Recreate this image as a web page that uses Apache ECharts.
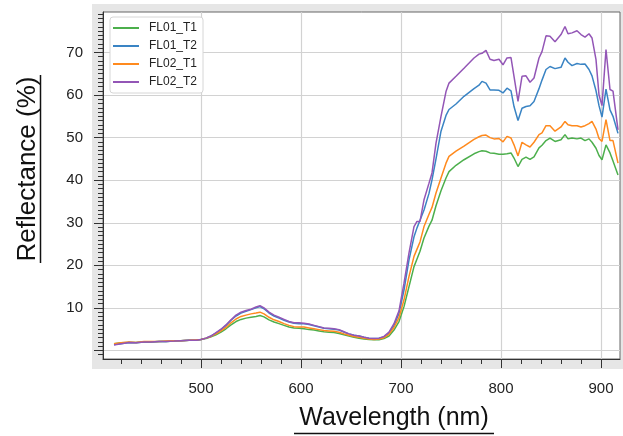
<!DOCTYPE html>
<html>
<head>
<meta charset="utf-8">
<script src="https://cdn.jsdelivr.net/npm/echarts@6/dist/echarts.min.js"></script>
<style>
  html, body { margin: 0; padding: 0; background: #fff; }
  #main { width: 623px; height: 436px; }
</style>
</head>
<body>
<div id="main"></div>
<script>
// wavelength (nm)
const wavelengths = [413, 420, 428, 435, 443, 450, 458, 465, 473, 480, 488, 495, 500, 505, 510, 515, 520, 525, 530, 535,
  540, 545, 550, 555, 559, 563, 568, 573, 578, 583, 588, 593, 598, 603, 608, 613, 618, 623, 628, 633,
  638, 643, 648, 653, 658, 663, 668, 673, 678, 683, 688, 693, 698, 703, 708, 713, 716, 719, 723, 728,
  731, 735, 740, 745, 748, 755, 763, 773, 778, 781, 785, 789, 793, 798, 802, 806, 810, 813, 817, 821,
  825, 829, 833, 838, 841, 845, 849, 854, 860, 864, 867, 871, 876, 880, 884, 888, 891, 895, 898, 901,
  905, 909, 912, 917]

// reflectance (%)
const fl01T1 = [1.6, 1.8, 1.9, 1.9, 2.0, 2.0, 2.1, 2.1, 2.2, 2.3, 2.4, 2.4, 2.6, 2.8, 3.2, 3.7, 4.3, 5.1, 6.0, 6.8,
  7.3, 7.6, 7.8, 8.0, 8.2, 7.9, 7.2, 6.7, 6.3, 5.9, 5.5, 5.3, 5.2, 5.1, 4.9, 4.8, 4.6, 4.4, 4.3, 4.2,
  4.0, 3.7, 3.4, 3.1, 2.9, 2.7, 2.6, 2.5, 2.5, 2.8, 3.4, 4.8, 6.8, 10.3, 15.0, 19.7, 21.5, 23.3, 26.4, 29.2,
  30.6, 34.0, 37.5, 40.5, 42.0, 43.5, 44.8, 46.2, 46.7, 46.9, 46.8, 46.4, 46.3, 46.1, 46.1, 46.2, 46.4, 45.2, 43.2, 44.9,
  45.4, 44.9, 45.5, 47.6, 48.2, 49.3, 49.9, 49.1, 49.5, 50.7, 49.7, 49.9, 49.7, 49.9, 49.3, 49.7, 48.9, 47.5, 45.8, 44.8,
  48.3, 46.4, 44.5, 41.2]
const fl01T2 = [1.4, 1.6, 1.9, 1.8, 2.0, 2.0, 2.1, 2.1, 2.2, 2.3, 2.4, 2.4, 2.6, 2.9, 3.4, 4.1, 4.9, 5.9, 7.1, 8.1,
  8.8, 9.2, 9.6, 10.0, 10.3, 9.8, 8.8, 8.1, 7.6, 7.1, 6.7, 6.4, 6.3, 6.3, 6.1, 5.8, 5.5, 5.2, 5.1, 5.0,
  4.8, 4.3, 3.9, 3.6, 3.4, 3.1, 2.9, 2.8, 2.9, 3.2, 4.1, 5.9, 8.7, 14.2, 21.3, 26.7, 28.8, 30.6, 33.0, 36.9,
  40.1, 45.0, 51.5, 55.2, 56.6, 57.9, 59.7, 61.5, 62.3, 63.2, 62.8, 61.2, 61.2, 61.1, 60.5, 61.6, 61.0, 57.3, 54.0, 56.9,
  57.3, 57.5, 58.5, 61.5, 63.5, 66.0, 66.7, 66.2, 66.5, 68.7, 67.7, 66.9, 67.4, 67.2, 67.3, 66.0, 64.5, 61.0, 57.5, 54.8,
  61.4, 56.5, 55.0, 51.0]
const fl02T1 = [1.6, 1.8, 2.0, 1.9, 2.1, 2.1, 2.1, 2.2, 2.3, 2.3, 2.4, 2.5, 2.6, 2.9, 3.3, 3.9, 4.6, 5.4, 6.5, 7.4,
  8.0, 8.3, 8.6, 8.8, 9.0, 8.6, 7.8, 7.2, 6.8, 6.3, 5.9, 5.6, 5.5, 5.5, 5.3, 5.1, 4.9, 4.7, 4.6, 4.5,
  4.3, 3.9, 3.6, 3.3, 3.1, 2.9, 2.7, 2.6, 2.7, 3.0, 3.8, 5.4, 7.7, 11.9, 17.4, 22.1, 23.8, 25.5, 29.1, 32.0,
  33.6, 37.0, 40.5, 44.0, 45.6, 46.8, 48.0, 49.6, 50.2, 50.5, 50.6, 50.0, 49.7, 49.8, 49.0, 50.3, 49.9, 48.3, 45.7, 48.9,
  48.3, 47.8, 48.9, 50.7, 51.1, 52.8, 52.8, 51.5, 52.5, 53.8, 53.0, 52.8, 52.8, 52.5, 52.8, 53.3, 53.8, 52.0, 49.8, 49.1,
  54.2, 49.3, 49.3, 44.0]
const fl02T2 = [1.3, 1.6, 1.9, 1.8, 2.0, 2.0, 2.1, 2.1, 2.2, 2.3, 2.4, 2.4, 2.6, 2.9, 3.4, 4.2, 5.0, 6.0, 7.2, 8.3,
  9.0, 9.4, 9.7, 10.2, 10.5, 10.0, 9.0, 8.3, 7.8, 7.3, 6.8, 6.5, 6.5, 6.4, 6.2, 5.9, 5.6, 5.3, 5.2, 5.1,
  4.9, 4.4, 3.9, 3.6, 3.4, 3.1, 2.9, 2.8, 2.9, 3.3, 4.3, 6.3, 9.3, 15.8, 22.9, 29.1, 30.3, 30.3, 35.4, 39.3,
  41.7, 48.7, 55.0, 60.8, 62.8, 64.4, 66.3, 68.7, 69.6, 69.8, 70.5, 68.4, 68.1, 68.4, 67.1, 68.7, 68.8, 64.4, 58.5, 64.4,
  64.5, 63.0, 64.0, 68.7, 70.2, 73.9, 73.8, 72.5, 74.2, 76.1, 74.4, 74.6, 75.1, 74.2, 73.6, 74.4, 73.4, 68.3, 60.0, 57.5,
  70.7, 61.3, 60.9, 51.8]

const seriesNames = ["FL01_T1", "FL01_T2", "FL02_T1", "FL02_T2"]
const seriesValues = [fl01T1, fl01T2, fl02T1, fl02T2]
const seriesColors = ["#4caf4c", "#3a84c4", "#ff8a1e", "#9356b6"]

// ticks
const xMajor = [500, 600, 700, 800, 900]
const xMinor = [420, 440, 460, 480, 520, 540, 560, 580, 620, 640, 660, 680, 720, 740, 760, 780, 820, 840, 860, 880, 920]
const yMajor = [0, 10, 20, 30, 40, 50, 60, 70]
const yLabels = [10, 20, 30, 40, 50, 60, 70]
const yMinor = []
for (let v = -1; v < 80; v++) {
  if (v % 10 !== 0) yMinor.push(v)
}

const xMin = 402
const xMax = 919
const yMin = -2
const yMax = 79.5

const font = "'Liberation Sans', Arial, sans-serif"
const tickColor = "#333"

const myChart = echarts.init(document.getElementById("main"), null, { renderer: "canvas" })

// 只画刻度的辅助轴（小刻度）
function minorAxis(ticks, min, max, extra) {
  return Object.assign({
    type: "value",
    min: min,
    max: max,
    axisLine: { show: false, onZero: false },
    axisTick: { show: true, inside: false, length: 5, customValues: ticks, lineStyle: { color: tickColor, width: 1 } },
    axisLabel: { show: false },
    splitLine: { show: false }
  }, extra)
}

const option = {
  backgroundColor: "#fff",
  animation: false,
  graphic: [
    {
      type: "rect",
      z: -10,
      shape: { x: 92, y: 4, width: 531, height: 365 },
      style: { fill: "#e6e6e6" }
    },
    {
      type: "text",
      x: 394, y: 418,
      style: { text: "Wavelength (nm)", font: "25px " + font, fill: "#111", align: "center", verticalAlign: "middle" }
    },
    {
      type: "line",
      shape: { x1: 294, y1: 433.5, x2: 494, y2: 433.5 },
      style: { stroke: "#111", lineWidth: 1.5 }
    },
    {
      type: "text",
      x: 28, y: 169,
      rotation: Math.PI / 2,
      style: { text: "Reflectance (%)", font: "26px " + font, fill: "#111", align: "center", verticalAlign: "middle" }
    },
    {
      type: "line",
      shape: { x1: 40.5, y1: 75, x2: 40.5, y2: 263 },
      style: { stroke: "#111", lineWidth: 1.5 }
    }
  ],
  grid: {
    left: 103,
    right: 3,
    top: 12,
    bottom: 77,
    show: true,
    backgroundColor: "#fff",
    borderColor: "#666",
    borderWidth: 1
  },
  legend: {
    data: seriesNames,
    orient: "vertical",
    left: 110,
    top: 17,
    padding: [4, 6, 4, 3],
    icon: "rect",
    itemWidth: 26,
    itemHeight: 2,
    itemGap: 4,
    backgroundColor: "#fff",
    borderColor: "#d6d6d6",
    borderWidth: 1,
    borderRadius: 3,
    textStyle: { fontSize: 12, lineHeight: 14, color: "#222", fontFamily: font, padding: [0, 0, 0, 5] }
  },
  xAxis: [
    {
      type: "value",
      min: xMin,
      max: xMax,
      position: "bottom",
      axisLine: { show: true, onZero: false, lineStyle: { color: tickColor, width: 1 } },
      axisTick: { show: true, inside: false, length: 9, customValues: xMajor, lineStyle: { color: tickColor, width: 1 } },
      axisLabel: { customValues: xMajor, margin: 22, fontSize: 15, color: "#222", fontFamily: font },
      splitLine: { show: true, lineStyle: { color: "#d2d2d2", width: 1.2 } }
    },
    minorAxis(xMinor, xMin, xMax, { position: "bottom" })
  ],
  yAxis: [
    {
      type: "value",
      min: yMin,
      max: yMax,
      position: "left",
      axisLine: { show: true, onZero: false, lineStyle: { color: tickColor, width: 1 } },
      axisTick: { show: true, inside: false, length: 9, customValues: yMajor, lineStyle: { color: tickColor, width: 1 } },
      axisLabel: { customValues: yLabels, margin: 20, fontSize: 15, color: "#222", fontFamily: font },
      splitLine: { show: true, lineStyle: { color: "#d2d2d2", width: 1.2 } }
    },
    minorAxis(yMinor, yMin, yMax, { position: "left" })
  ],
  series: seriesNames.map(function (name, i) {
    return {
      name: name,
      type: "line",
      xAxisIndex: 0,
      yAxisIndex: 0,
      symbol: "none",
      smooth: false,
      color: seriesColors[i],
      lineStyle: { width: 1.5, color: seriesColors[i] },
      data: wavelengths.map(function (w, j) { return [w, seriesValues[i][j]] })
    }
  })
}

myChart.setOption(option)
</script>
</body>
</html>
